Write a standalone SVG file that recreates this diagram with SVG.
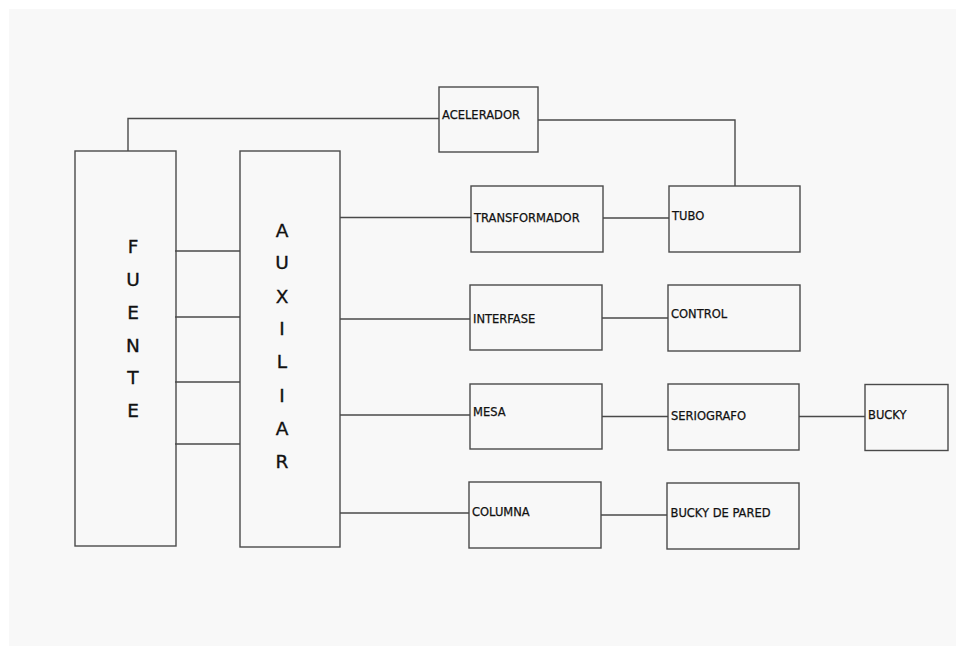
<svg xmlns="http://www.w3.org/2000/svg" width="962" height="652" viewBox="0 0 962 652">
<style>
.box{fill:none;stroke:#4a4a4a;stroke-width:1.4}
.ln{fill:none;stroke:#4a4a4a;stroke-width:1.4}
.t{font-family:"DejaVu Sans","Verdana",sans-serif;font-size:11.5px;fill:#111;stroke:#111;stroke-width:0.25}
.v{font-family:"DejaVu Sans","Verdana",sans-serif;font-size:18.5px;fill:#111;stroke:#111;stroke-width:0.35;text-anchor:middle}
</style>
<rect x="0" y="0" width="962" height="652" fill="#ffffff"/>
<rect x="9" y="9" width="947" height="637" fill="#f8f8f8"/>
<g id="connectors">
<polyline class="ln" points="128,151 128,118.5 439,118.5"/>
<polyline class="ln" points="538,120 735,120 735,186"/>
<line class="ln" x1="175" y1="251" x2="240" y2="251"/>
<line class="ln" x1="175" y1="317" x2="240" y2="317"/>
<line class="ln" x1="175" y1="382" x2="240" y2="382"/>
<line class="ln" x1="175" y1="444" x2="240" y2="444"/>
<line class="ln" x1="340" y1="217.5" x2="471" y2="217.5"/>
<line class="ln" x1="340" y1="319" x2="470" y2="319"/>
<line class="ln" x1="340" y1="415" x2="470" y2="415"/>
<line class="ln" x1="340" y1="513" x2="469" y2="513"/>
<line class="ln" x1="603" y1="218" x2="669" y2="218"/>
<line class="ln" x1="602" y1="318" x2="668" y2="318"/>
<line class="ln" x1="602" y1="416.5" x2="668" y2="416.5"/>
<line class="ln" x1="799" y1="416.5" x2="865" y2="416.5"/>
<line class="ln" x1="601" y1="515" x2="667" y2="515"/>
</g>
<g id="fuente">
<rect class="box" x="75" y="151" width="101" height="395"/>
<text class="v" x="133" y="252.5">F</text>
<text class="v" x="133" y="285.5">U</text>
<text class="v" x="133" y="319">E</text>
<text class="v" x="133" y="351.5">N</text>
<text class="v" x="133" y="383.5">T</text>
<text class="v" x="133" y="417">E</text>
</g>
<g id="auxiliar">
<rect class="box" x="240" y="151" width="100" height="396"/>
<text class="v" x="282" y="236.5">A</text>
<text class="v" x="282" y="269">U</text>
<text class="v" x="282" y="302.5">X</text>
<text class="v" x="282" y="335">I</text>
<text class="v" x="282" y="368">L</text>
<text class="v" x="282" y="401.5">I</text>
<text class="v" x="282" y="435">A</text>
<text class="v" x="282" y="467.5">R</text>
</g>
<g id="acelerador">
<rect class="box" x="439" y="87" width="99" height="65"/>
<text class="t" x="442" y="118.5">ACELERADOR</text>
</g>
<g id="transformador">
<rect class="box" x="471" y="186" width="132" height="66"/>
<text class="t" x="474" y="222">TRANSFORMADOR</text>
</g>
<g id="tubo">
<rect class="box" x="669" y="186" width="131" height="66"/>
<text class="t" x="672" y="219.5">TUBO</text>
</g>
<g id="interfase">
<rect class="box" x="470" y="285" width="132" height="65"/>
<text class="t" x="473" y="322.5">INTERFASE</text>
</g>
<g id="control">
<rect class="box" x="668" y="285" width="132" height="66"/>
<text class="t" x="671" y="318">CONTROL</text>
</g>
<g id="mesa">
<rect class="box" x="470" y="384" width="132" height="65"/>
<text class="t" x="473" y="416">MESA</text>
</g>
<g id="seriografo">
<rect class="box" x="668" y="384" width="131" height="66"/>
<text class="t" x="671" y="419.5">SERIOGRAFO</text>
</g>
<g id="bucky">
<rect class="box" x="865" y="384.5" width="83" height="66"/>
<text class="t" x="868" y="418.5">BUCKY</text>
</g>
<g id="columna">
<rect class="box" x="469" y="482" width="132" height="66"/>
<text class="t" x="472" y="515.5">COLUMNA</text>
</g>
<g id="bucky-de-pared">
<rect class="box" x="667" y="483" width="132" height="66"/>
<text class="t" x="670.5" y="517">BUCKY DE PARED</text>
</g>
</svg>
